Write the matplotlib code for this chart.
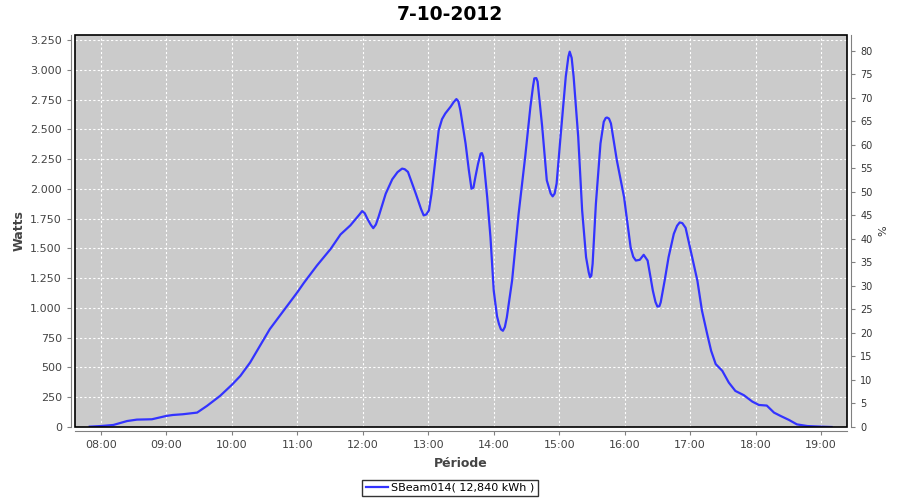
import matplotlib
matplotlib.use("Agg")
import matplotlib.pyplot as plt
import matplotlib.dates as mdates
from matplotlib.ticker import FuncFormatter, MultipleLocator
from matplotlib.patches import Rectangle
import pandas as pd

title = "7-10-2012"
series_name = "SBeam014( 12,840 kWh )"

# decimal hours
hours = [
    7.83, 8.00, 8.19, 8.40, 8.55, 8.78, 9.00, 9.10, 9.25, 9.47, 9.62, 9.82,
    10.00, 10.13, 10.28, 10.43, 10.58, 10.79, 11.00, 11.10, 11.30, 11.51, 11.66,
    11.81, 11.95, 11.99, 12.03, 12.07, 12.12, 12.16, 12.20, 12.24, 12.35, 12.45,
    12.53, 12.60, 12.64, 12.69, 12.81, 12.89, 12.93, 12.97,
    13.01, 13.05, 13.09, 13.16, 13.21, 13.26, 13.34, 13.39, 13.43, 13.46, 13.49,
    13.57, 13.62, 13.66, 13.69, 13.72, 13.76, 13.80, 13.82, 13.84, 13.90, 13.95,
    14.00, 14.05, 14.08, 14.11, 14.14, 14.17, 14.20, 14.28, 14.38, 14.48,
    14.56, 14.60, 14.62, 14.65, 14.67, 14.74, 14.81, 14.87, 14.90, 14.93, 14.96,
    15.02, 15.10, 15.14, 15.16, 15.19, 15.22, 15.29, 15.35, 15.41, 15.45, 15.47,
    15.49, 15.51, 15.56, 15.63, 15.68, 15.71, 15.73, 15.76, 15.79, 15.88,
    15.99, 16.09, 16.13, 16.17, 16.23, 16.29, 16.35, 16.43, 16.47, 16.50, 16.53,
    16.55, 16.61, 16.67, 16.75, 16.80, 16.84, 16.88, 16.93, 17.03, 17.11, 17.18,
    17.26, 17.32, 17.39, 17.49, 17.59, 17.69, 17.82, 17.95, 18.05, 18.17, 18.28,
    18.38, 18.51, 18.63, 18.79, 18.99, 19.16,
]
watts = [
    3, 8, 17, 50, 62, 65, 93, 101, 107, 121, 177, 261,
    354, 429, 542, 682, 822, 977, 1131, 1210, 1356, 1496, 1617,
    1693, 1785, 1813, 1795, 1749, 1700, 1670, 1700, 1763, 1959, 2080,
    2140, 2170, 2165, 2142, 1959, 1830, 1777, 1785,
    1819, 1960, 2156, 2493, 2585, 2633, 2689, 2730, 2754, 2735, 2661,
    2380, 2156, 2001, 2010, 2100, 2210, 2296, 2300, 2268, 1931, 1594,
    1145, 930, 865, 820, 808, 840, 921, 1229, 1791, 2268,
    2689, 2860, 2928, 2930, 2900, 2521, 2072, 1960, 1937, 1960, 2044,
    2437, 2942, 3110, 3152, 3100, 2942, 2437, 1819, 1426, 1300, 1258,
    1270, 1370, 1875, 2380, 2563, 2595, 2599, 2590, 2549, 2240,
    1931, 1510, 1430, 1398, 1404, 1446, 1398, 1145, 1050, 1011, 1015,
    1047, 1229, 1426, 1622, 1690, 1718, 1712, 1673, 1426, 1229, 977,
    780, 640, 528, 472, 373, 303, 267, 213, 185, 180, 121,
    93, 59, 22, 8, 3, 0,
]

day = pd.Timestamp("2012-10-07")
times = [day + pd.Timedelta(hours=h) for h in hours]

plt.rcParams["font.family"] = ["DejaVu Sans"]

fig = plt.figure(figsize=(9, 5), dpi=100)
ax = fig.add_axes([75 / 900, 1 - 427 / 500, (847 - 75) / 900, (427 - 35) / 500])
ax.set_facecolor("#cbcbcb")

ax.plot(times, watts, color="#3333ff", lw=1.6, label=series_name,
        solid_joinstyle="round")

ax.set_xlim(day + pd.Timedelta(hours=7.605), day + pd.Timedelta(hours=19.395))
ax.set_ylim(0, 3292)
ax.xaxis.set_major_locator(mdates.HourLocator())
ax.xaxis.set_major_formatter(mdates.DateFormatter("%H:%M"))
ax.yaxis.set_major_locator(MultipleLocator(250))
ax.yaxis.set_major_formatter(FuncFormatter(lambda v, p: f"{int(v):,}".replace(",", ".")))

ax.grid(True, color="white", linestyle=(0, (2, 2)), linewidth=0.8)
ax.set_axisbelow(True)

for s in ax.spines.values():
    s.set_visible(False)
for s in ("left", "bottom"):
    ax.spines[s].set_visible(True)
    ax.spines[s].set_color("#808080")
    ax.spines[s].set_position(("outward", 3))
ax.add_patch(Rectangle((0, 0), 1, 1, transform=ax.transAxes, fill=False,
                       edgecolor="black", lw=1.2, zorder=5, clip_on=False))
ax.tick_params(labelsize=8, color="#808080", length=3, labelcolor="#444444")

ax.set_ylabel("Watts", fontsize=9, fontweight="bold", color="#444444", labelpad=3)
ax.set_xlabel("Période", fontsize=9, fontweight="bold", color="#444444", labelpad=5)
fig.text(0.5, 1 - 14 / 500, title, ha="center", va="center",
         fontsize=13.5, fontweight="bold")

ax2 = ax.twinx()
ax2.set_ylim(0, 83.4)
ax2.yaxis.set_major_locator(MultipleLocator(5))
for s in ax2.spines.values():
    s.set_visible(False)
ax2.spines["right"].set_visible(True)
ax2.spines["right"].set_color("#808080")
ax2.spines["right"].set_position(("outward", 3))
ax2.tick_params(labelsize=7, color="#808080", length=3, labelcolor="#333333")
ax2.set_ylabel("%", fontsize=8, color="#333333", labelpad=4)

fig.legend(loc="center", bbox_to_anchor=(0.5, 1 - 488 / 500), frameon=True,
           fancybox=False, edgecolor="black", fontsize=8, handlelength=2.0,
           borderpad=0.3, handletextpad=0.3)

fig.savefig("out.png", dpi=100, facecolor="white")
